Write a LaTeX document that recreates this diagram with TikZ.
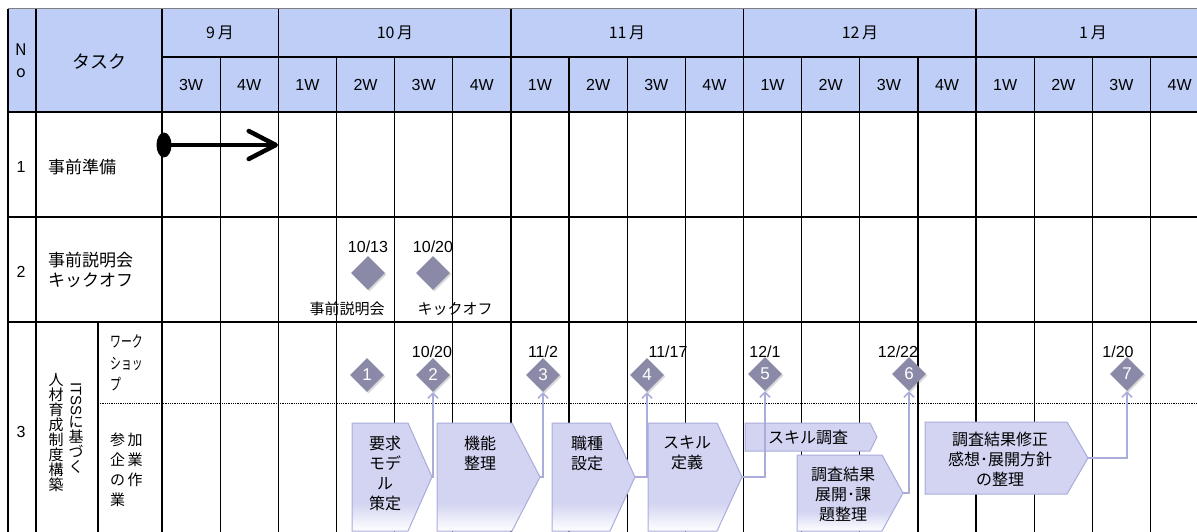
\documentclass[tikz,border=0pt]{standalone}
\usepackage{fontspec}
\setmainfont{Noto Sans CJK JP}
\newfontfamily\lat{Liberation Sans}
\usetikzlibrary{shapes.geometric,arrows.meta,shadows}
\definecolor{hdr}{RGB}{190,206,247}
\definecolor{lav}{RGB}{210,212,242}
\definecolor{lavedge}{RGB}{170,172,218}
\definecolor{dia}{RGB}{138,138,168}
\pgfdeclareverticalshading{chevshade}{100bp}{color(0bp)=(white); color(25bp)=(white); color(38bp)=(lav); color(100bp)=(lav)}
\tikzset{
  grid/.style={draw=black, line width=1.3pt},
  jp/.style={font=\fontsize{16}{20}\selectfont, inner sep=0pt, align=center},
  hd/.style={font=\fontsize{16}{22}\selectfont, inner sep=0pt, align=center},
  wk/.style={font=\lat\fontsize{16}{18}\selectfont, inner sep=0pt},
  dt/.style={font=\lat\fontsize{16}{18}\selectfont, inner sep=0pt},
  dia/.style={diamond, fill=dia, minimum width=34pt, minimum height=34pt, inner sep=0pt,
     text=white, font=\lat\fontsize{17}{17}\selectfont,
     drop shadow={shadow xshift=1.5pt, shadow yshift=-1.5pt, opacity=0.3}},
  chevS/.style={draw=lavedge, line width=1pt, shading=chevshade},
  chevF/.style={draw=lavedge, line width=1pt, fill=lav},
  conn/.style={draw=lavedge, line width=1.5pt, -{Straight Barb[length=5pt,width=10pt]}},
  vt/.style={font=\fontsize{15}{15}\selectfont, inner sep=0pt, align=center}
}
\begin{document}
\begin{tikzpicture}[x=1pt,y=-1pt]
\useasboundingbox (0,0) rectangle (1197,532);
\begin{scope}
\clip (0,0) rectangle (1197,532);
% header fill
\fill[hdr] (8,9) rectangle (1215,112);
% vertical grid
\draw[grid] (8,9) -- (8,540);
\draw[grid] (36,9) -- (36,540);
\draw[grid] (98,322) -- (98,540);
\foreach \i in {0,...,18} {
  \pgfmathsetmacro\xx{162+\i*58.15}
  \ifnum\i=0 \draw[grid] (\xx,9) -- (\xx,540);
  \else\ifnum\i=2 \draw[grid] (\xx,9) -- (\xx,540);
  \else\ifnum\i=6 \draw[grid] (\xx,9) -- (\xx,540);
  \else\ifnum\i=10 \draw[grid] (\xx,9) -- (\xx,540);
  \else\ifnum\i=14 \draw[grid] (\xx,9) -- (\xx,540);
  \else\ifnum\i=18 \draw[grid] (\xx,9) -- (\xx,540);
  \else \draw[grid] (\xx,57) -- (\xx,540);
  \fi\fi\fi\fi\fi\fi
}
% horizontal grid
\draw[draw=gray, line width=1pt] (8,9) -- (1215,9);
\draw[grid] (162,57) -- (1215,57);
\draw[grid] (8,112) -- (1215,112);
\draw[grid] (8,217) -- (1215,217);
\draw[grid] (8,322) -- (1215,322);
\draw[line width=0.8pt, densely dotted] (98,403) -- (1215,403);

% header text
\node[hd] (hN) at (21,61) {N\\o};
\node[hd, font=\fontsize{18}{20}\selectfont] (hT) at (99,62) {タスク};
\node[hd] (m9) at (220,33) {9\,月};
\node[hd] (m10) at (395,33) {10\,月};
\node[hd] (m11) at (627,33) {11\,月};
\node[hd] (m12) at (860,33) {12\,月};
\node[hd] (m1) at (1093,33) {1\,月};
\foreach \w [count=\i from 0] in {3W,4W,1W,2W,3W,4W,1W,2W,3W,4W,1W,2W,3W,4W,1W,2W,3W,4W} {
  \pgfmathsetmacro\xx{162+(\i+0.5)*58.15}
  \node[wk] (w\i) at (\xx,85) {\w};
}

% row numbers and task labels
\node[wk] (r1) at (21,167) {1};
\node[wk] (r2) at (21,272) {2};
\node[wk] (r3) at (21,432) {3};
\node[jp, font=\fontsize{17}{20}\selectfont, anchor=west] (t1n) at (48,167) {事前準備};
\node[jp, font=\fontsize{17}{20}\selectfont, anchor=west, align=left] (t2n) at (48,270) {事前説明会\\キックオフ};
\node[vt] (v1) at (56,433) {人\\材\\育\\成\\制\\度\\構\\築};
\node[vt] (v2) at (76,428) {\rotatebox{-90}{\lat ITSS}\\に\\基\\づ\\く};
\node[anchor=west, align=left, inner sep=0pt, font=\fontsize{16}{21.5}\selectfont] (s1) at (110,363) {\scalebox{0.68}[1]{ワーク}\\\scalebox{0.68}[1]{ショッ}\\\scalebox{0.68}[1]{プ}};
\node[anchor=west, align=left, inner sep=0pt, font=\fontsize{15}{20}\selectfont] (s2) at (110,470) {参\,加\\企\,業\\の\,作\\業};

% row 1 arrow
\node[ellipse, fill=black, minimum width=15pt, minimum height=25pt, inner sep=0pt] (e0) at (164,145) {};
\coordinate (e1) at (278,145);
\draw[line width=4.5pt, -{Straight Barb[length=27pt,width=28pt,round]}] (e0.center) -- (e1);

% row 2 milestones
\node[dia] (k1) at (368,273) {};
\node[dia] (k2) at (433,273) {};
\node[dt] (k1d) at (368,247) {10/13};
\node[dt] (k2d) at (433,247) {10/20};
\node[jp, font=\fontsize{15}{18}\selectfont] (k1l) at (347,309) {事前説明会};
\node[jp, font=\fontsize{15}{18}\selectfont] (k2l) at (455,309) {キックオフ};

% row 3 chevrons
\path[chevS] (352,423) -- (408,423) -- (432,477) -- (408,531) -- (352,531) -- cycle;
\coordinate (c1) at (432,477);
\path[chevS] (437,423) -- (512,423) -- (540,477) -- (512,531) -- (437,531) -- cycle;
\coordinate (c2) at (540,477);
\path[chevS] (552,423) -- (610,423) -- (635,477) -- (610,531) -- (552,531) -- cycle;
\coordinate (c3) at (635,477);
\path[chevS] (648,423) -- (717,423) -- (742,477) -- (717,531) -- (648,531) -- cycle;
\coordinate (c4) at (742,477);
\path[chevF] (745,423) -- (870,423) -- (877,437) -- (870,451) -- (745,451) -- cycle;
\path[chevS] (797,455) -- (882,455) -- (903,493) -- (882,531) -- (797,531) -- cycle;
\coordinate (c6) at (903,493);
\path[chevF] (925,422) -- (1067,422) -- (1088,458) -- (1067,494) -- (925,494) -- cycle;
\coordinate (c7) at (1088,458);

\node[jp] (x1) at (385,473) {要求\\モデ\\ル\\策定};
\node[jp] (x2) at (480,453) {機能\\整理};
\node[jp] (x3) at (587,453) {職種\\設定};
\node[jp] (x4) at (687,453) {スキル\\定義};
\node[jp] (x5) at (808,437) {スキル調査};
\node[jp] (x6) at (843,494) {調査結果\\展開･課\\題整理};
\node[jp] (x7) at (1000,459) {調査結果修正\\感想･展開方針\\の整理};

% row 3 milestones
\node[dia] (d1) at (367,375) {1};
\node[dia] (d2) at (433,375) {2};
\node[dia] (d3) at (543,375) {3};
\node[dia] (d4) at (647,375) {4};
\node[dia] (d5) at (765,374) {5};
\node[dia] (d6) at (909,374) {6};
\node[dia] (d7) at (1127,374) {7};
\node[dt] (l2) at (432,352) {10/20};
\node[dt] (l3) at (543,352) {11/2};
\node[dt] (l4) at (668,352) {11/17};
\node[dt] (l5) at (765,352) {12/1};
\node[dt] (l6) at (898,352) {12/22};
\node[dt] (l7) at (1118,352) {1/20};

% connectors
\draw[conn] (c1) -| (d2.south);
\draw[conn] (c2) -| (d3.south);
\draw[conn] (c3) -| (d4.south);
\draw[conn] (c4) -| (d5.south);
\draw[conn] (c6) -| (d6.south);
\draw[conn] (c7) -| (d7.south);
\end{scope}
\end{tikzpicture}
\end{document}
